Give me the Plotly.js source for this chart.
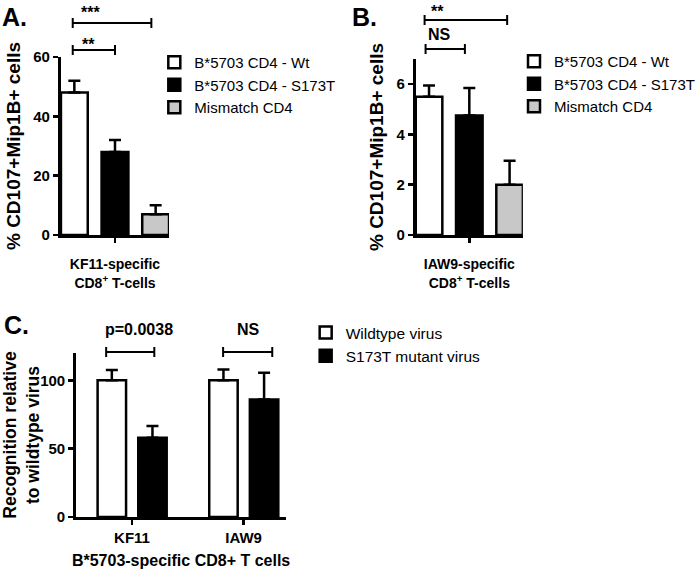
<!DOCTYPE html>
<html><head><meta charset="utf-8">
<script src="https://cdn.plot.ly/plotly-3.0.1.min.js"></script>
<style>html,body{margin:0;padding:0;background:#fff}</style>
</head><body><div id="chart" style="width:700px;height:570px"></div>
<script>
// ---- data ----
const seriesAB = ["B*5703 CD4 - Wt", "B*5703 CD4 - S173T", "Mismatch CD4"];
const categoryA = ["KF11-specific CD8+ T-cells"];
const valuesA = [48, 28, 7];
const errorsA = [4, 4, 3];
const categoryB = ["IAW9-specific CD8+ T-cells"];
const valuesB = [5.5, 4.75, 2.0];
const errorsB = [0.45, 1.1, 0.95];
const categoriesC = ["KF11", "IAW9"];
const seriesC = ["Wildtype virus", "S173T mutant virus"];
const wildtypeC = [100, 100];
const wildtypeErrC = [7.5, 8];
const mutantC = [58, 86];
const mutantErrC = [8.5, 19.5];

// ---- styles ----
const fillsAB = ["#ffffff", "#000000", "#c8c8c8"];
const fillsC = ["#ffffff", "#000000"];
const FONT = "Liberation Sans, Arial, Helvetica, sans-serif";
const W = 700, H = 570;
const px = x => x / W;
const py = y => 1 - y / H;

function errBar(v) {
  return {type: "data", symmetric: false, array: [].concat(v), arrayminus: [].concat(v).map(() => 0),
          color: "#000", thickness: 2.5, width: 6};
}

const traces = [];
seriesAB.forEach((name, i) => {
  traces.push({type: "bar", name: name, x: categoryA, y: [valuesA[i]], xaxis: "x", yaxis: "y", legend: "legend",
    marker: {color: fillsAB[i], line: {color: "#000", width: 2.5}}, error_y: errBar(errorsA[i]), hoverinfo: "y"});
});
seriesAB.forEach((name, i) => {
  traces.push({type: "bar", name: name, x: categoryB, y: [valuesB[i]], xaxis: "x2", yaxis: "y2", legend: "legend2",
    marker: {color: fillsAB[i], line: {color: "#000", width: 2.5}}, error_y: errBar(errorsB[i]), hoverinfo: "y"});
});
traces.push({type: "bar", name: seriesC[0], x: categoriesC, y: wildtypeC, xaxis: "x3", yaxis: "y3", legend: "legend3",
  width: 0.255, offset: -0.308,
  marker: {color: fillsC[0], line: {color: "#000", width: 2.5}}, error_y: errBar(wildtypeErrC), hoverinfo: "y"});
traces.push({type: "bar", name: seriesC[1], x: categoriesC, y: mutantC, xaxis: "x3", yaxis: "y3", legend: "legend3",
  width: 0.255, offset: 0.056,
  marker: {color: fillsC[1], line: {color: "#000", width: 2.5}}, error_y: errBar(mutantErrC), hoverinfo: "y"});

const axBase = {
  showline: true, linecolor: "#000", linewidth: 3, ticks: "outside", ticklen: 5, tickwidth: 2.5, tickcolor: "#000",
  showgrid: false, zeroline: false, automargin: false, fixedrange: true,
  tickfont: {family: FONT, size: 15, color: "#000", weight: "bold"}
};
const bold = (size) => ({family: FONT, size: size, color: "#000", weight: "bold"});

const legendBase = {xanchor: "left", yanchor: "top", bgcolor: "rgba(0,0,0,0)", borderwidth: 0,
  font: {family: FONT, size: 15, color: "#000"}, itemwidth: 30, traceorder: "normal", itemclick: false, itemdoubleclick: false};

function bracket(x0, x1, y) {
  const l = {color: "#000", width: 2};
  return [
    {type: "line", xref: "paper", yref: "paper", x0: px(x0), x1: px(x1), y0: py(y), y1: py(y), line: l},
    {type: "line", xref: "paper", yref: "paper", x0: px(x0), x1: px(x0), y0: py(y - 5), y1: py(y + 5), line: l},
    {type: "line", xref: "paper", yref: "paper", x0: px(x1), x1: px(x1), y0: py(y - 5), y1: py(y + 5), line: l}
  ];
}
function label(text, x, y, size, anchor) {
  return {text: text, xref: "paper", yref: "paper", x: px(x), y: py(y), xanchor: anchor || "center", yanchor: "middle",
    showarrow: false, font: bold(size)};
}

const layout = {
  width: W, height: H, margin: {l: 0, r: 0, t: 0, b: 0},
  paper_bgcolor: "#fff", plot_bgcolor: "rgba(0,0,0,0)",
  font: {family: FONT, color: "#000"},
  barmode: "group", bargap: 0, bargroupgap: 0.34,
  showlegend: true,
  xaxis: Object.assign({}, axBase, {domain: [px(62), px(172)], anchor: "y", range: [-0.4433, 0.4433], showticklabels: false,
    title: {text: "KF11-specific<br>CD8<sup>+</sup> T-cells", font: bold(14), standoff: 18}}),
  yaxis: Object.assign({}, axBase, {domain: [py(235), py(57)], anchor: "x", range: [0, 60], dtick: 20,
    title: {text: "% CD107+Mip1B+ cells", font: bold(19), standoff: 8}}),
  xaxis2: Object.assign({}, axBase, {domain: [px(423), px(532)], anchor: "y2", range: [-0.4433, 0.4433], showticklabels: false,
    title: {text: "IAW9-specific<br>CD8<sup>+</sup> T-cells", font: bold(14), standoff: 18}}),
  yaxis2: Object.assign({}, axBase, {domain: [py(235), py(59)], anchor: "x2", range: [0, 7], dtick: 2,
    title: {text: "% CD107+Mip1B+ cells", font: bold(19), standoff: 8}}),
  xaxis3: Object.assign({}, axBase, {domain: [px(77.5), px(291)], anchor: "y3", range: [-0.5, 1.38],
    title: {text: "B*5703-specific CD8+ T cells", font: bold(16), standoff: 10}}),
  yaxis3: Object.assign({}, axBase, {domain: [py(517), py(353)], anchor: "x3", range: [0, 120], dtick: 50,
    title: {text: "Recognition relative<br>to wildtype virus", font: bold(17.5), standoff: 9}}),
  legend: Object.assign({}, legendBase, {x: px(157), y: py(46)}),
  legend2: Object.assign({}, legendBase, {x: px(523), y: py(45)}),
  legend3: Object.assign({}, legendBase, {x: px(311), y: py(316), font: {family: FONT, size: 15.5, color: "#000"}}),
  shapes: [].concat(
    bracket(74, 154, 23), bracket(74, 117, 50),
    bracket(432, 516, 20), bracket(433, 473, 49),
    bracket(108, 157, 352), bracket(227, 277, 352)
  ),
  annotations: [
    label("A.", 0, 17, 25, "left"),
    label("B.", 356, 17, 25, "left"),
    label("C.", 2, 325, 25, "left"),
    label("***", 92, 13, 16),
    label("**", 90, 44, 16),
    label("**", 445, 12, 16),
    label("NS", 447, 35, 16),
    label("p=0.0038", 141.5, 329, 16),
    label("NS", 252.5, 329, 16)
  ]
};

Plotly.newPlot("chart", traces, layout, {staticPlot: true, displayModeBar: false});
</script>
</body></html>
